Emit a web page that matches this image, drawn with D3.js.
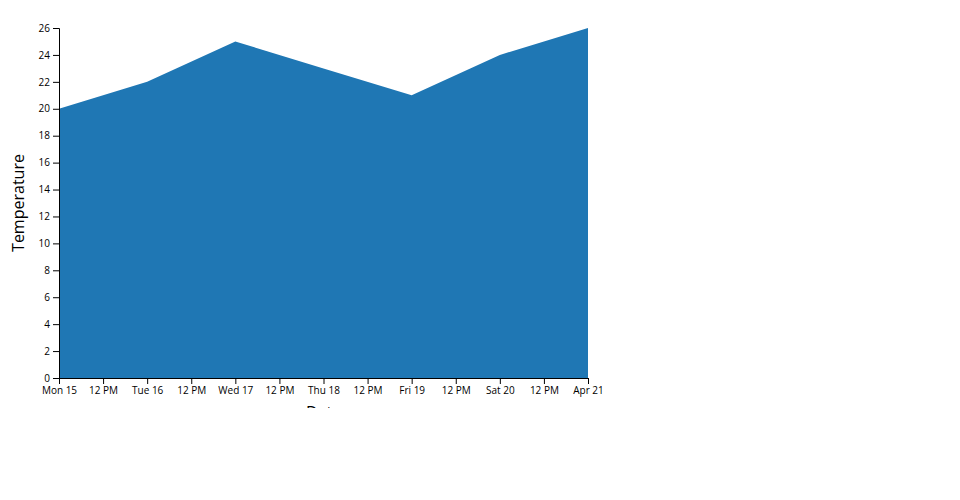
<!DOCTYPE html>
<html>
<head>
<meta charset="utf-8">
<script src="https://cdn.jsdelivr.net/npm/d3@7"></script>
<style>
body { margin: 0; background: #fff; }
svg { display: block; font-family: "Open Sans", sans-serif; }
.tick text { font-family: "Open Sans", sans-serif; font-size: 10px; }
</style>
</head>
<body>
<div id="chart"></div>
<script>
const dates = ["2024-04-15", "2024-04-16", "2024-04-17", "2024-04-18", "2024-04-19", "2024-04-20", "2024-04-21"];
const temperatures = [20, 22, 25, 23, 21, 24, 26];

const margin = {top: 28, right: 372, bottom: 30, left: 59};
const width = 960 - margin.left - margin.right;
const height = 350;

const parse = d3.timeParse("%Y-%m-%d");
const data = dates.map((d, i) => ({date: parse(d), value: temperatures[i]}));

const svg = d3.select("#chart").append("svg")
  .attr("width", 960)
  .attr("height", margin.top + height + margin.bottom);

const g = svg.append("g").attr("transform", `translate(${margin.left},${margin.top})`);

const x = d3.scaleTime().domain(d3.extent(data, d => d.date)).range([0, width]);
const y = d3.scaleLinear().domain([0, d3.max(data, d => d.value)]).range([height, 0]);

const area = d3.area().x(d => x(d.date)).y0(height).y1(d => y(d.value));

g.append("path").datum(data).attr("fill", "#1f77b4").attr("d", area);

g.append("g").attr("transform", `translate(0,${height})`).call(d3.axisBottom(x));
g.append("g").call(d3.axisLeft(y).ticks(13));

g.append("text")
  .attr("x", width / 2)
  .attr("y", height + 40)
  .attr("text-anchor", "middle")
  .style("font-size", "16px")
  .text("Date");

g.append("text")
  .attr("transform", "rotate(-90)")
  .attr("x", -height / 2)
  .attr("y", -35)
  .attr("text-anchor", "middle")
  .style("font-size", "16px")
  .text("Temperature");
</script>
</body>
</html>
